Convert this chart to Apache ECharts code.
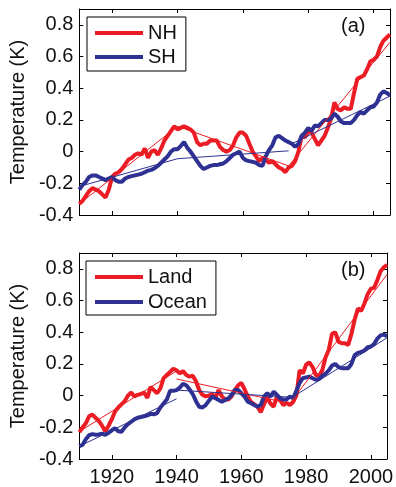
<!DOCTYPE html>
<html><head><meta charset="utf-8">
<script src="https://cdn.jsdelivr.net/npm/echarts@6/dist/echarts.min.js"></script>
<style>html,body{margin:0;padding:0;background:#fff}#c{width:396px;height:487px}</style>
</head><body><div id="c"></div>
<script>
const startYear = 1910;
// Panel (a)
const nh = [-0.33,-0.31,-0.28,-0.25,-0.23,-0.24,-0.25,-0.27,-0.29,-0.24,
 -0.16,-0.14,-0.13,-0.11,-0.08,-0.05,-0.04,-0.02,-0.01,-0.02,
 0.02,-0.04,0.00,0.01,-0.02,0.02,0.07,0.10,0.13,0.16,
 0.14,0.15,0.16,0.15,0.14,0.12,0.06,0.04,0.05,0.05,
 0.07,0.07,0.07,0.03,0.01,0.00,0.01,0.04,0.09,0.12,
 0.12,0.10,0.05,0.00,-0.03,-0.06,-0.04,-0.05,-0.07,-0.06,
 -0.08,-0.10,-0.11,-0.13,-0.10,-0.09,-0.06,0.00,0.10,0.09,
 0.13,0.12,0.08,0.04,0.07,0.10,0.15,0.21,0.31,0.27,
 0.26,0.28,0.27,0.27,0.37,0.46,0.47,0.48,0.52,0.57,
 0.58,0.60,0.66,0.70,0.72,0.74];
const sh = [-0.24,-0.21,-0.19,-0.16,-0.15,-0.15,-0.16,-0.17,-0.18,-0.17,
 -0.16,-0.18,-0.19,-0.19,-0.17,-0.16,-0.155,-0.15,-0.145,-0.14,
 -0.13,-0.12,-0.115,-0.105,-0.09,-0.07,-0.05,-0.03,0.00,0.015,
 0.015,0.035,0.06,0.025,0.00,-0.03,-0.06,-0.09,-0.11,-0.10,
 -0.09,-0.085,-0.085,-0.08,-0.075,-0.06,-0.04,-0.02,-0.01,0.00,
 -0.04,-0.055,-0.06,-0.065,-0.07,-0.085,-0.09,-0.03,0.01,0.04,
 0.09,0.10,0.085,0.07,0.06,0.05,0.03,0.05,0.10,0.12,
 0.15,0.13,0.165,0.16,0.18,0.20,0.20,0.21,0.24,0.22,
 0.19,0.18,0.18,0.18,0.20,0.23,0.25,0.24,0.26,0.28,
 0.285,0.31,0.36,0.38,0.37,0.355];
// Panel (b)
const land = [-0.23,-0.20,-0.175,-0.13,-0.12,-0.14,-0.16,-0.19,-0.225,-0.19,
 -0.15,-0.10,-0.075,-0.055,-0.035,0.00,0.02,-0.005,0.005,0.01,
 0.02,-0.015,0.055,0.035,0.015,0.045,0.11,0.13,0.15,0.17,
 0.16,0.14,0.155,0.13,0.12,0.125,0.09,0.035,0.005,-0.005,
 0.00,0.01,-0.015,0.035,-0.005,-0.025,-0.025,-0.005,0.035,0.065,
 0.08,0.04,-0.005,-0.04,-0.055,-0.07,-0.105,-0.055,-0.01,-0.05,
 -0.07,-0.005,-0.03,-0.06,-0.045,-0.06,-0.04,0.00,0.16,0.14,
 0.195,0.21,0.18,0.13,0.125,0.16,0.24,0.29,0.39,0.40,
 0.34,0.33,0.33,0.32,0.39,0.48,0.55,0.535,0.58,0.64,
 0.675,0.68,0.73,0.785,0.81,0.825];
const ocean = [-0.32,-0.31,-0.275,-0.25,-0.243,-0.247,-0.245,-0.24,-0.247,-0.235,
 -0.22,-0.205,-0.225,-0.228,-0.20,-0.18,-0.165,-0.15,-0.14,-0.135,
 -0.13,-0.125,-0.115,-0.118,-0.11,-0.075,-0.05,-0.025,0.03,0.03,
 0.035,0.05,0.075,0.065,0.04,0.01,-0.035,-0.07,-0.075,-0.06,
 -0.032,-0.006,-0.017,-0.027,-0.038,-0.027,-0.017,0.004,0.036,0.036,
 0.015,-0.006,-0.038,-0.048,-0.059,-0.07,-0.059,-0.006,0.015,-0.006,
 0.025,0.004,-0.017,-0.027,-0.023,-0.006,-0.017,0.03,0.08,0.11,
 0.115,0.12,0.11,0.10,0.105,0.125,0.138,0.16,0.19,0.20,
 0.18,0.173,0.173,0.173,0.20,0.255,0.27,0.275,0.285,0.305,
 0.31,0.325,0.36,0.38,0.385,0.375];
// Piecewise linear trends: [startYear, startValue, endYear, endValue]
const nhTrend = [[1910,-0.33,1940,0.16],[1940,0.16,1974,-0.09],[1974,-0.09,2005,0.69]];
const shTrend = [[1910,-0.22,1940,-0.045],[1940,-0.045,1974,0.005],[1975,0.05,2005,0.35]];
const landTrend = [[1910,-0.227,1940,0.155],[1940,0.105,1975,-0.05],[1975,-0.05,2005,0.765]];
const oceanTrend = [[1910,-0.32,1940,-0.02],[1940,0.035,1975,-0.01],[1975,-0.02,2005,0.365]];
const xTicks = [1920,1940,1960,1980,2000];
const yTicks = [-0.4,-0.2,0,0.2,0.4,0.6,0.8];
const panelLabels = ['(a)','(b)'];

const RED = '#ec1c24', BLUE = '#2e3192';
const FONT = "'Liberation Sans', Arial, Helvetica, sans-serif";
const FS = 20;

function toPairs(arr){ return arr.map((v,i)=>[startYear+i, v]); }

const grids = [
  {left:77, right:6, top:9, height:206},
  {left:77, right:6, top:253, height:206}
];
const xAxis = [], yAxis = [];
grids.forEach((g, gi) => {
  const base = {gridIndex:gi, type:'value', min:1910, max:2005,
    axisLine:{show:true, onZero:false, lineStyle:{color:'#000', width:1}},
    axisTick:{show:true, inside:true, length:4, customValues:xTicks, lineStyle:{color:'#000'}},
    splitLine:{show:false}};
  xAxis.push(Object.assign({}, base, {position:'bottom',
    axisLabel:{show: gi===1, customValues:xTicks, margin:8, fontSize:FS, color:'#111', fontFamily:FONT,
      formatter:v=>String(v)}}));
  xAxis.push(Object.assign({}, base, {position:'top', axisLabel:{show:false}}));
  const ybase = {gridIndex:gi, type:'value', min:-0.4, max:0.9,
    axisLine:{show:true, onZero:false, lineStyle:{color:'#000', width:1}},
    axisTick:{show:true, inside:true, length:4, customValues:yTicks, lineStyle:{color:'#000'}},
    splitLine:{show:false}};
  yAxis.push(Object.assign({}, ybase, {position:'left',
    name:'Temperature (K)', nameLocation:'middle', nameGap:47, nameRotate:90,
    nameTextStyle:{fontSize:FS, color:'#111', fontFamily:FONT},
    axisLabel:{show:true, customValues:yTicks, margin:6, fontSize:FS, color:'#111', fontFamily:FONT,
      formatter:v=> (Math.abs(v)<1e-9 ? '0' : String(Math.round(v*10)/10))}}));
  yAxis.push(Object.assign({}, ybase, {position:'right', axisLabel:{show:false}}));
});

const series = [];
function thick(name, data, color, gi){
  series.push({name, type:'line', xAxisIndex:gi*2, yAxisIndex:gi*2, data:toPairs(data),
    showSymbol:false, symbol:'none', lineStyle:{color, width:4}, itemStyle:{color}, z:2, silent:true});
}
function thin(trend, color, gi, key){
  trend.forEach((s, k) => {
    series.push({name:key+'-trend-'+k, type:'line', xAxisIndex:gi*2, yAxisIndex:gi*2,
      data:[[s[0],s[1]],[s[2],s[3]]], showSymbol:false, symbol:'none',
      lineStyle:{color, width:1}, itemStyle:{color}, z:3, silent:true});
  });
}
thick('NH', nh, RED, 0);
thick('SH', sh, BLUE, 0);
thin(nhTrend, RED, 0, 'nh');
thin(shTrend, BLUE, 0, 'sh');
thick('Land', land, RED, 1);
thick('Ocean', ocean, BLUE, 1);
thin(landTrend, RED, 1, 'land');
thin(oceanTrend, BLUE, 1, 'ocean');

const legendBase = {orient:'vertical', icon:'rect', itemWidth:48, itemHeight:4,
  borderColor:'#000', borderWidth:1, backgroundColor:'#fff', selectedMode:false,
  textStyle:{fontSize:FS, color:'#111', fontFamily:FONT}};
const legend = [
  Object.assign({}, legendBase, {data:['NH','SH'], left:87, top:17, padding:[6,9,4,8], itemGap:4}),
  Object.assign({}, legendBase, {data:['Land','Ocean'], left:86, top:261, padding:[6,9,3,9], itemGap:5})
];

const chart = echarts.init(document.getElementById('c'), null, {renderer:'canvas'});
chart.setOption({
  animation:false,
  backgroundColor:'#fff',
  grid:grids, xAxis, yAxis, series, legend,
  graphic:[
    {type:'text', left:341, top:16, style:{text:panelLabels[0], fontSize:FS, fill:'#111', fontFamily:FONT}},
    {type:'text', left:341, top:260, style:{text:panelLabels[1], fontSize:FS, fill:'#111', fontFamily:FONT}}
  ]
});
</script></body></html>
